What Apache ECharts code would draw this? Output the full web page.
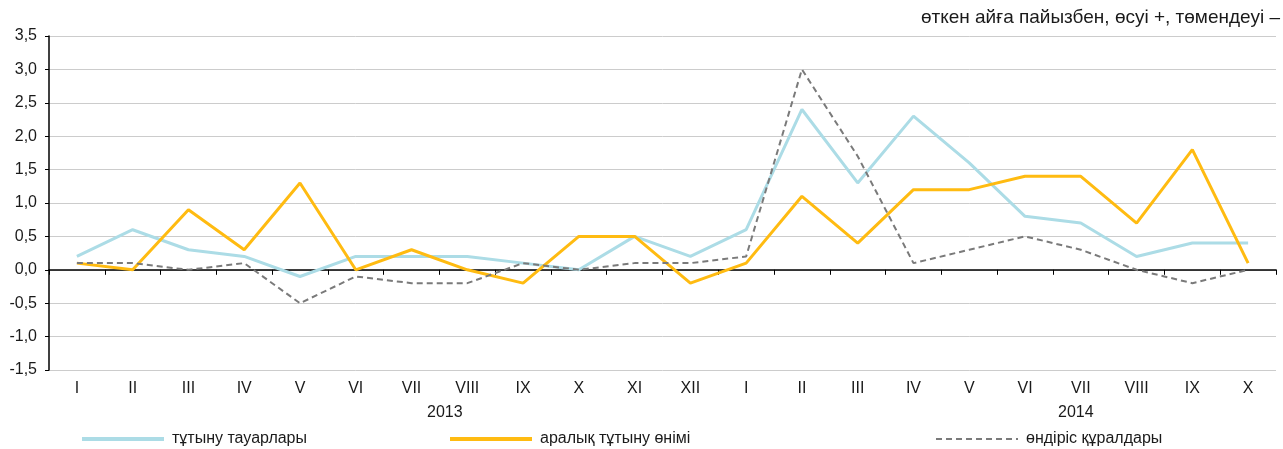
<!DOCTYPE html>
<html>
<head>
<meta charset="utf-8">
<script src="https://cdn.jsdelivr.net/npm/echarts@6/dist/echarts.min.js"></script>
<style>
  html, body { margin: 0; padding: 0; background: #fff; }
  #main { width: 1283px; height: 449px; }
</style>
</head>
<body>
<div id="main"></div>
<script>
var months = ['I', 'II', 'III', 'IV', 'V', 'VI', 'VII', 'VIII', 'IX', 'X', 'XI', 'XII',
              'I', 'II', 'III', 'IV', 'V', 'VI', 'VII', 'VIII', 'IX', 'X'];
var years = ['2013', '2014'];
var seriesNames = ['тұтыну тауарлары', 'аралық тұтыну өнімі', 'өндіріс құралдары'];

var consumerGoods = [0.2, 0.6, 0.3, 0.2, -0.1, 0.2, 0.2, 0.2, 0.1, 0.0, 0.5, 0.2,
                     0.6, 2.4, 1.3, 2.3, 1.6, 0.8, 0.7, 0.2, 0.4, 0.4];
var intermediate = [0.1, 0.0, 0.9, 0.3, 1.3, 0.0, 0.3, 0.0, -0.2, 0.5, 0.5, -0.2,
                    0.1, 1.1, 0.4, 1.2, 1.2, 1.4, 1.4, 0.7, 1.8, 0.1];
var capitalGoods = [0.1, 0.1, 0.0, 0.1, -0.5, -0.1, -0.2, -0.2, 0.1, 0.0, 0.1, 0.1,
                    0.2, 3.0, 1.7, 0.1, 0.3, 0.5, 0.3, 0.0, -0.2, 0.0];

var font = 'Liberation Sans, Arial, sans-serif';
var textColor = '#1a1a1a';
var chart = echarts.init(document.getElementById('main'));

// one legend per item so each sits where the original puts it
function legendAt(name, left, lineWidth) {
  return {
    data: [name], left: left, top: 431, padding: 0,
    itemWidth: 82, itemHeight: 12,
    itemStyle: { opacity: 0 },
    lineStyle: { width: lineWidth },
    textStyle: { fontFamily: font, fontSize: 16, color: textColor, padding: [0, 0, 0, 3] }
  };
}

chart.setOption({
  backgroundColor: '#fff',
  animation: false,
  title: {
    text: 'өткен айға пайызбен, өсуі +, төмендеуі –',
    right: 3,
    top: 8,
    padding: 0,
    textStyle: { fontFamily: font, fontSize: 19, fontWeight: 'normal', color: textColor }
  },
  grid: { left: 49, right: 7, top: 36, bottom: 79 },
  legend: [
    legendAt(seriesNames[0], 80, 4),
    legendAt(seriesNames[1], 448, 4),
    legendAt(seriesNames[2], 935, 2)
  ],
  graphic: [
    { type: 'text', left: 427, top: 405,
      style: { text: years[0], font: '16px ' + font, fill: textColor } },
    { type: 'text', left: 1058, top: 405,
      style: { text: years[1], font: '16px ' + font, fill: textColor } }
  ],
  xAxis: [
    {
      type: 'category',
      data: months,
      boundaryGap: true,
      position: 'bottom',
      axisLine: { onZero: true, lineStyle: { color: '#000', width: 1.5 } },
      axisTick: { show: true, length: 5, lineStyle: { color: '#000' } },
      axisLabel: { show: false },
      splitLine: { show: false }
    },
    {
      type: 'category',
      data: months,
      boundaryGap: true,
      position: 'bottom',
      axisLine: { show: false, onZero: false },
      axisTick: { show: false },
      axisLabel: { margin: 11, fontFamily: font, fontSize: 16, color: textColor },
      splitLine: { show: false }
    }
  ],
  yAxis: {
    type: 'value',
    min: -1.5,
    max: 3.5,
    interval: 0.5,
    axisLine: { show: true, lineStyle: { color: '#000', width: 1.5 } },
    axisTick: { show: true, length: 4, lineStyle: { color: '#000' } },
    axisLabel: {
      margin: 12,
      fontFamily: font, fontSize: 16, color: textColor,
      formatter: function (v) { return v.toFixed(1).replace('.', ','); }
    },
    splitLine: { lineStyle: { color: '#cccccc', width: 1 } }
  },
  series: [
    {
      name: seriesNames[0], type: 'line', data: consumerGoods, xAxisIndex: 0,
      symbol: 'none', z: 3,
      lineStyle: { color: '#acdce6', width: 3 },
      itemStyle: { color: '#acdce6' }
    },
    {
      name: seriesNames[1], type: 'line', data: intermediate, xAxisIndex: 0,
      symbol: 'none', z: 4,
      lineStyle: { color: '#ffbb11', width: 3 },
      itemStyle: { color: '#ffbb11' }
    },
    {
      name: seriesNames[2], type: 'line', data: capitalGoods, xAxisIndex: 0,
      symbol: 'none', z: 5,
      lineStyle: { color: '#7a7a7a', width: 2, type: [6, 4] },
      itemStyle: { color: '#7a7a7a' }
    }
  ]
});
</script>
</body>
</html>
